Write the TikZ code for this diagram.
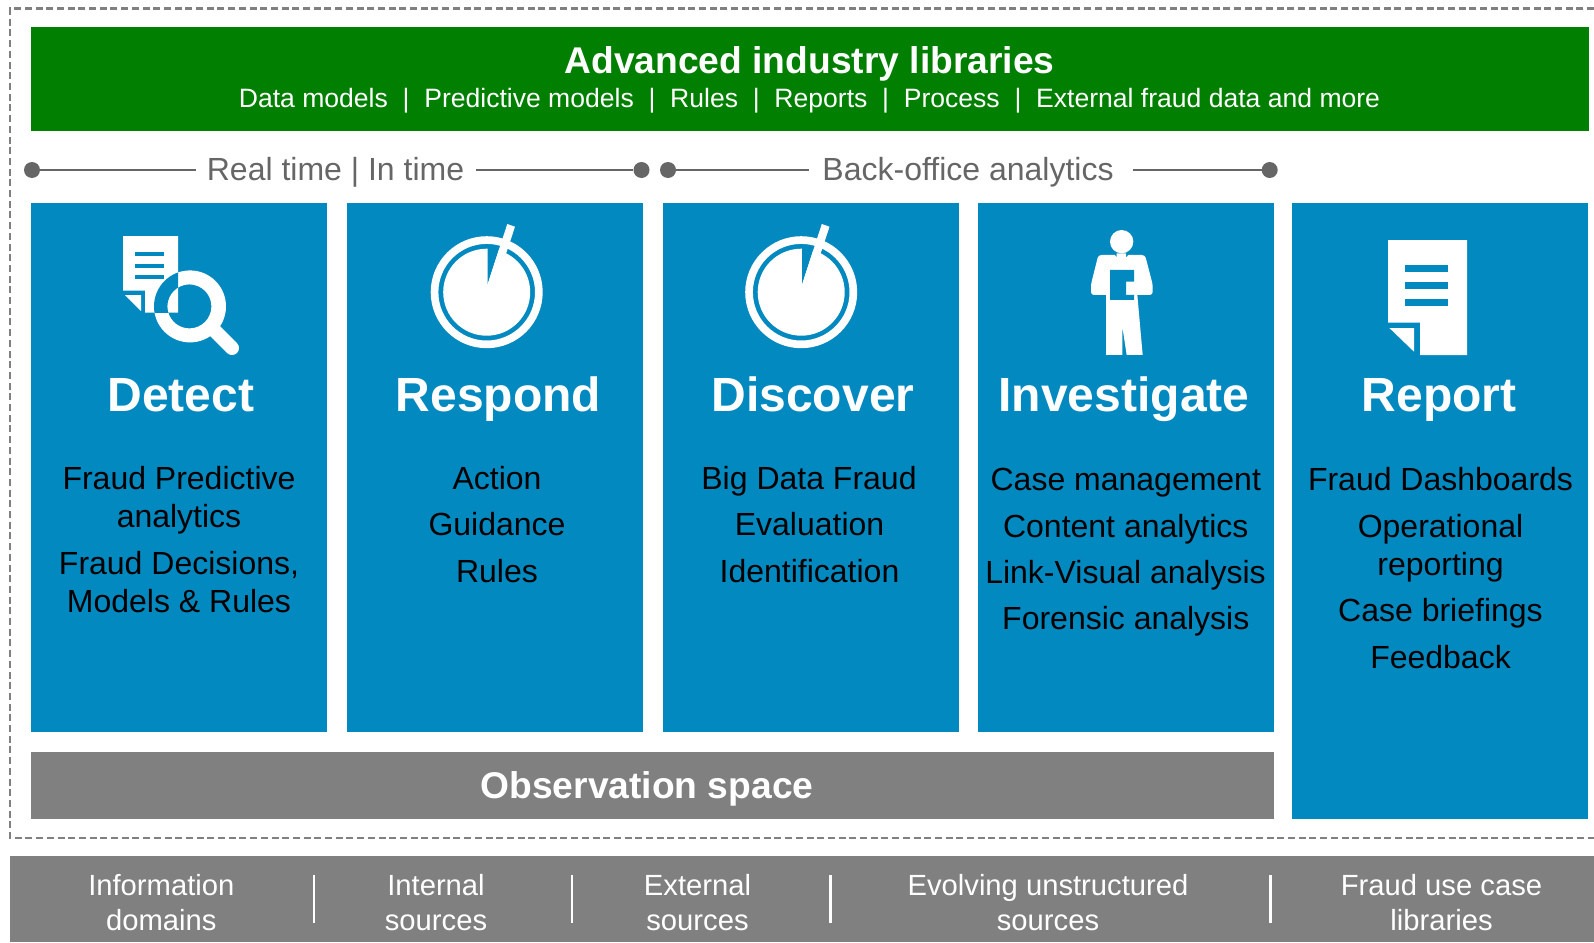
\documentclass[tikz,border=0pt]{standalone}
\usepackage{fontspec}
\setmainfont{Liberation Sans}
\usetikzlibrary{calc}
\definecolor{fraudblue}{HTML}{0289C0}
\definecolor{fraudgreen}{HTML}{007F00}
\definecolor{fraudgrey}{HTML}{808080}
\definecolor{linegrey}{HTML}{666666}
\tikzset{
  headtext/.style={anchor=base,inner sep=0pt,white,font=\fontsize{48}{50}\selectfont\bfseries},
  bodytext/.style={anchor=base,inner sep=0pt,black,font=\fontsize{32}{36}\selectfont},
  bartext/.style={anchor=base,inner sep=0pt,white,font=\fontsize{37.2}{40}\selectfont\bfseries},
  subtext/.style={anchor=base,inner sep=0pt,white,font=\fontsize{26.55}{30}\selectfont},
  spantext/.style={anchor=base,inner sep=0pt,linegrey,font=\fontsize{32}{36}\selectfont},
  sourcetext/.style={anchor=base,inner sep=0pt,white,font=\fontsize{29.2}{32}\selectfont},
  spandot/.style={circle,fill=linegrey,inner sep=0pt,minimum size=16pt},
  spanline/.style={draw=linegrey,line width=2.5pt},
  column/.style={fill=fraudblue},
  sourcebar/.style={draw=white,line width=2.5pt}
}
\begin{document}
\begin{tikzpicture}[x=1pt,y=-1pt]
\useasboundingbox (0,0) rectangle (1594,942);
\fill[white] (0,0) rectangle (1594,942);
\draw[fraudgrey,line width=2.5pt,dash pattern=on 7pt off 3.7pt] (1594,8.5)--(10,8.5)--(10,838)--(1594,838);
% top band
\fill[fraudgreen] (31,27) rectangle (1589,131);
\node[bartext] (libtitle) at (809.5,73.5) {Advanced industry libraries};
\node[subtext] (libsub) at (809.5,107) {Data models~~|~~Predictive models~~|~~Rules~~|~~Reports~~|~~Process~~|~~External fraud data and more};
% spans
\node[spandot] (rtA) at (32,170) {};
\node[spandot] (rtB) at (641.5,170) {};
\node[spandot] (boA) at (668,170) {};
\node[spandot] (boB) at (1269.7,170) {};
\coordinate (rtAend) at (196,170);
\coordinate (rtBend) at (476,170);
\coordinate (boAend) at (809,170);
\coordinate (boBend) at (1132.5,170);
\node[spantext] (rtlabel) at (335.5,180) {Real time | In time};
\node[spantext] (bolabel) at (968,180) {Back-office analytics};
\draw[spanline] (rtA)--(rtAend);
\draw[spanline] (rtB)--(rtBend);
\draw[spanline] (boA)--(boAend);
\draw[spanline] (boB)--(boBend);
% columns
\fill[column] (31,203) rectangle (327,732);
\fill[column] (347,203) rectangle (643,732);
\fill[column] (663,203) rectangle (959,732);
\fill[column] (978,203) rectangle (1274,732);
\fill[column] (1292,203) rectangle (1588,819);
\fill[fraudgrey] (31,752) rectangle (1274,819);
\node[bartext] (obs) at (647,798) {Observation space};
% detect icon
\fill[white] (123,236)--(178,236)--(178,312.7)--(145,312.7)--(145,290.7)--(123,290.7)--cycle;
\fill[white] (125,295)--(141,295)--(141,311)--cycle;
\fill[fraudblue] (135,252) rectangle (164,256);
\fill[fraudblue] (135,264) rectangle (164,268);
\fill[fraudblue] (135,275) rectangle (164,279);
\fill[white,even odd rule] (190,306.4) circle (36) (189.4,306.4) circle (22);
\draw[white,line width=14pt,line cap=round] (215,331)--(232,348);
\begin{scope}
  \clip (123,236) rectangle (178,312.7);
  \fill[fraudblue,even odd rule] (190,306.4) circle (36) (189.4,306.4) circle (22);
\end{scope}
% clock icons
\foreach \shiftx in {0,314.5}{
  \begin{scope}[xshift=\shiftx pt]
    \fill[white,even odd rule] (486.7,292.2) circle (56) (486.7,292.2) circle (48.3);
    \fill[white] (486.7,292.2) circle (43.5);
    \fill[fraudblue] (487.7,284)--(487.7,246)--(500,246)--cycle;
    \fill[white] (487.7,284)--(507.3,224)--(515,226.7)--(506.7,251.7)--(497,284)--cycle;
  \end{scope}
}
% person icon
\begin{scope}[shift={(1080,225)},scale=0.3333]
  \fill[white] (125,50) circle (35);
  \fill[white] (105,90)--(110,98)--(110,85)--(138,85)--(138,98)--(145,90)[rounded corners=3pt]--(195,90)--(218,178)--(218,210)[sharp corners]--(172,210)--(188,390)--(140,390)--(127,305)--(127,390)--(78,390)--(78,210)[rounded corners=3pt]--(33,210)--(33,178)--(55,90)[sharp corners]--cycle;
  \fill[fraudblue] (90,135)--(162,135)--(162,170)--(138,170)--(138,210)--(162,210)--(162,225)--(90,225)--cycle;
\end{scope}
% report icon
\fill[white] (1388,240)--(1467,240)--(1467,355)--(1420,355)--(1420,322.7)--(1388,322.7)--cycle;
\fill[white] (1389.4,328)--(1414,328)--(1414,351.7)--cycle;
\fill[fraudblue] (1405,265) rectangle (1448,272);
\fill[fraudblue] (1405,282) rectangle (1448,289);
\fill[fraudblue] (1405,299) rectangle (1448,306);
% column headings
\node[headtext] (detect) at (181,411.7) {Detect};
\node[headtext] (respond) at (498.5,411.7) {Respond};
\node[headtext] (discover) at (813,411.7) {Discover};
\node[headtext] (investigate) at (1124,411.7) {Investigate};
\node[headtext] (report) at (1439,411.7) {Report};
% column texts
\node[bodytext] (detectA) at (179,489.5) {Fraud Predictive};
\node[bodytext] (detectB) at (179,527.3) {analytics};
\node[bodytext] (detectC) at (179,574.5) {Fraud Decisions,};
\node[bodytext] (detectD) at (179,612.7) {Models \& Rules};
\node[bodytext] (respondA) at (497,489.5) {Action};
\node[bodytext] (respondB) at (497,535) {Guidance};
\node[bodytext] (respondC) at (497,582.5) {Rules};
\node[bodytext] (discoverA) at (809,489.5) {Big Data Fraud};
\node[bodytext] (discoverB) at (809.5,535) {Evaluation};
\node[bodytext] (discoverC) at (809.5,582.5) {Identification};
\node[bodytext] (investA) at (1125.8,490.5) {Case management};
\node[bodytext] (investB) at (1125.8,537) {Content analytics};
\node[bodytext] (investC) at (1125.5,583.2) {Link-Visual analysis};
\node[bodytext] (investD) at (1125.8,629.5) {Forensic analysis};
\node[bodytext] (reportA) at (1440.5,490.5) {Fraud Dashboards};
\node[bodytext] (reportB) at (1440.5,537) {Operational};
\node[bodytext] (reportC) at (1440.5,575.5) {reporting};
\node[bodytext] (reportD) at (1440.5,621.5) {Case briefings};
\node[bodytext] (reportE) at (1440.5,668.5) {Feedback};
% sources
\fill[fraudgrey] (10,856) rectangle (1594,942);
\node[sourcetext] (srcA) at (161.3,895.2) {Information};
\node[sourcetext] (srcAb) at (161.3,930) {domains};
\node[sourcetext] (srcB) at (436,895.2) {Internal};
\node[sourcetext] (srcBb) at (436,930) {sources};
\node[sourcetext] (srcC) at (697.5,895.2) {External};
\node[sourcetext] (srcCb) at (697.5,930) {sources};
\node[sourcetext] (srcD) at (1048,895.2) {Evolving unstructured};
\node[sourcetext] (srcDb) at (1048,930) {sources};
\node[sourcetext] (srcE) at (1441.5,895.2) {Fraud use case};
\node[sourcetext] (srcEb) at (1441.5,930) {libraries};
\foreach \barx in {314,572,830.6,1270.7}{
  \draw[sourcebar] (\barx,875)--(\barx,923);
}
\end{tikzpicture}
\end{document}
